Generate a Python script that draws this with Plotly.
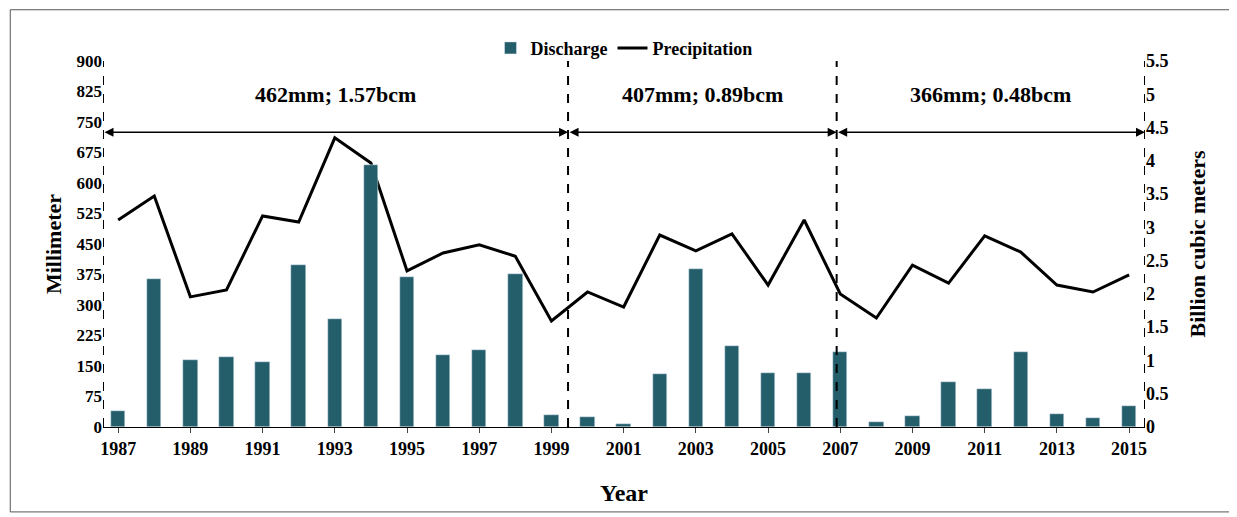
import plotly.graph_objects as go

years = list(range(1987, 2016))
discharge = [0.24, 2.22, 1.01, 1.05, 0.98, 2.43, 1.62, 3.94, 2.25, 1.08, 1.16, 2.30, 0.18,
             0.15, 0.05, 0.80, 2.37, 1.22, 0.81, 0.81, 1.13,
             0.08, 0.17, 0.68, 0.57, 1.13, 0.20, 0.14, 0.32]
precip = [509, 568, 320, 337, 519, 504, 711, 649, 384, 428, 448, 420, 261,
          332, 295, 472, 433, 475, 349, 509, 327,
          268, 398, 354, 470, 430, 349, 332, 374]
period_labels = ["462mm; 1.57bcm", "407mm; 0.89bcm", "366mm; 0.48bcm"]
period_edges = [1986.58, 1999.46, 2006.9, 2015.44]

FONT = dict(family="Liberation Serif", color="black")
BAR = "#255E6B"

fig = go.Figure()
fig.add_trace(go.Bar(x=years, y=discharge, name="<b>Discharge</b>", marker_color=BAR,
                     width=0.4, yaxis="y2"))
fig.add_trace(go.Scatter(x=years, y=precip, name="<b>Precipitation</b>", mode="lines",
                         line=dict(color="black", width=3)))

for i, lab in enumerate(period_labels):
    a, b = period_edges[i], period_edges[i + 1]
    fig.add_annotation(x=b, y=725, ax=a, ay=725, xref="x", yref="y", axref="x", ayref="y",
                       text="", showarrow=True, arrowhead=2, arrowside="end+start",
                       arrowwidth=1.5, arrowsize=1.2, arrowcolor="black")
    fig.add_annotation(x=(a + b) / 2, y=818, xref="x", yref="y", text="<b>%s</b>" % lab,
                       showarrow=False, font=dict(size=22, **FONT))
for e in period_edges:
    fig.add_shape(type="line", x0=e, x1=e, y0=0, y1=900, xref="x", yref="y",
                  line=dict(color="black", width=2, dash="dash"))
fig.add_shape(type="rect", x0=-0.089, x1=1.083, y0=-0.232, y1=1.14, xref="paper", yref="paper",
              line=dict(color="#555", width=1))

fig.update_layout(
    width=1237, height=517, plot_bgcolor="white", paper_bgcolor="white",
    margin=dict(l=95, r=100, t=53, b=98, autoexpand=False),
    font=dict(size=16, **FONT), bargap=0,
    legend=dict(orientation="h", x=0.5, xanchor="center", y=1.035, yanchor="middle",
                bgcolor="rgba(0,0,0,0)", font=dict(size=18, **FONT)),
    xaxis=dict(range=[1986.58, 2015.44], tickmode="array", tickvals=years[::2],
               ticktext=["<b>%d</b>" % y for y in years[::2]], showgrid=False,
               showline=True, linecolor="black", ticks="outside", automargin=False,
               title=dict(text="<b>Year</b>", font=dict(size=24, **FONT), standoff=26),
               tickfont=dict(size=18, **FONT)),
    yaxis=dict(range=[0, 900], tickvals=list(range(0, 901, 75)), automargin=False,
               ticktext=["<b>%d</b>" % v for v in range(0, 901, 75)], showgrid=False,
               title=dict(text="<b>Millimeter</b>", font=dict(size=22, **FONT), standoff=8),
               tickfont=dict(size=17, **FONT)),
    yaxis2=dict(range=[0, 5.5], overlaying="y", side="right", automargin=False,
                tickvals=[i * 0.5 for i in range(12)],
                ticktext=["<b>%g</b>" % (i * 0.5) for i in range(12)], showgrid=False,
                title=dict(text="<b>Billion cubic meters</b>", font=dict(size=22, **FONT),
                           standoff=22),
                tickfont=dict(size=18, **FONT)),
)
fig.write_html("out.html")
